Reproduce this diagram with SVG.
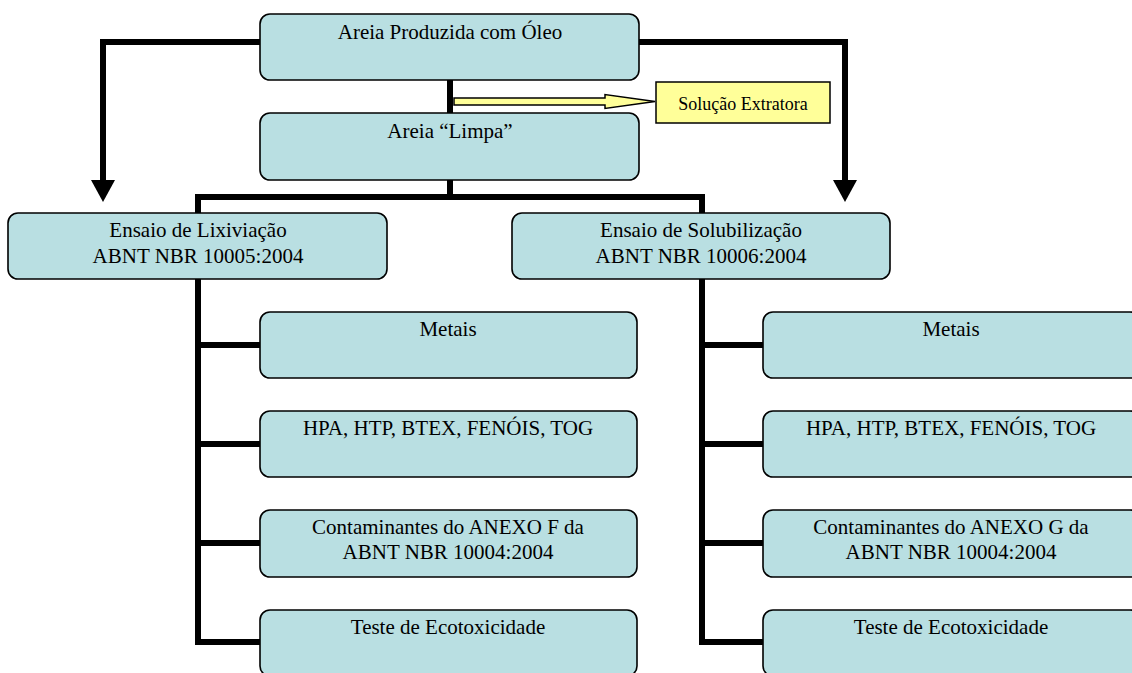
<svg xmlns="http://www.w3.org/2000/svg" width="1132" height="673" viewBox="0 0 1132 673">
<defs>
<style>
.box{fill:#b9dfe2;stroke:#000;stroke-width:1.6}
.t{font-family:"Liberation Serif","Times New Roman",serif;font-size:21px;fill:#000;text-anchor:middle}
.ts{font-family:"Liberation Serif","Times New Roman",serif;font-size:18px;fill:#000;text-anchor:middle}
.ln{fill:none;stroke:#000;stroke-width:6}
</style>
</defs>
<rect width="1132" height="673" fill="#fff"/>
<g id="connectors">
<path class="ln" d="M260,42 H103 V180"/>
<path d="M91,180 H115 L103,202 Z" fill="#000"/>
<path class="ln" d="M639,42 H845 V180"/>
<path d="M833,180 H857 L845,202 Z" fill="#000"/>
<path class="ln" d="M450,80 V113"/>
<path class="ln" d="M450,180 V197"/>
<path class="ln" d="M198,213 V197 H702 V213"/>
<path class="ln" d="M198,279 V642 H260 M198,345 H260 M198,444 H260 M198,543 H260"/>
<path class="ln" d="M702,279 V642 H763 M702,345 H763 M702,444 H763 M702,543 H763"/>
<path d="M454,98 H605 V94.5 L655,101.5 L605,108.5 V105 H454 Z" fill="#ffff99" stroke="#000" stroke-width="1.5"/>
</g>
<g id="n_top"><rect class="box" x="260" y="14" width="379" height="66" rx="10"/><text class="t" x="450" y="39">Areia Produzida com Óleo</text></g>
<g id="n_limpa"><rect class="box" x="260" y="113" width="379" height="67" rx="10"/><text class="t" x="450" y="138">Areia “Limpa”</text></g>
<g id="n_sol"><rect x="656" y="82" width="174" height="41" fill="#ffff99" stroke="#000" stroke-width="1.5"/><text class="ts" x="743" y="110">Solução Extratora</text></g>
<g id="n_lix"><rect class="box" x="8" y="213" width="379" height="66" rx="10"/><text class="t" x="198" y="237">Ensaio de Lixiviação</text><text class="t" x="198" y="263">ABNT NBR 10005:2004</text></g>
<g id="n_solub"><rect class="box" x="512" y="213" width="378" height="66" rx="10"/><text class="t" x="701" y="237">Ensaio de Solubilização</text><text class="t" x="701" y="263">ABNT NBR 10006:2004</text></g>
<g id="l_met"><rect class="box" x="260" y="312" width="377" height="66" rx="10"/><text class="t" x="448" y="336">Metais</text></g>
<g id="l_hpa"><rect class="box" x="260" y="411" width="377" height="66" rx="10"/><text class="t" x="448" y="435">HPA, HTP, BTEX, FENÓIS, TOG</text></g>
<g id="l_cont"><rect class="box" x="260" y="510" width="377" height="67" rx="10"/><text class="t" x="448" y="534">Contaminantes do ANEXO F da</text><text class="t" x="448" y="559">ABNT NBR 10004:2004</text></g>
<g id="l_eco"><rect class="box" x="260" y="610" width="377" height="66" rx="10"/><text class="t" x="448" y="634">Teste de Ecotoxicidade</text></g>
<g id="r_met"><rect class="box" x="763" y="312" width="377" height="66" rx="10"/><text class="t" x="951" y="336">Metais</text></g>
<g id="r_hpa"><rect class="box" x="763" y="411" width="377" height="66" rx="10"/><text class="t" x="951" y="435">HPA, HTP, BTEX, FENÓIS, TOG</text></g>
<g id="r_cont"><rect class="box" x="763" y="510" width="377" height="67" rx="10"/><text class="t" x="951" y="534">Contaminantes do ANEXO G da</text><text class="t" x="951" y="559">ABNT NBR 10004:2004</text></g>
<g id="r_eco"><rect class="box" x="763" y="610" width="377" height="66" rx="10"/><text class="t" x="951" y="634">Teste de Ecotoxicidade</text></g>
</svg>
